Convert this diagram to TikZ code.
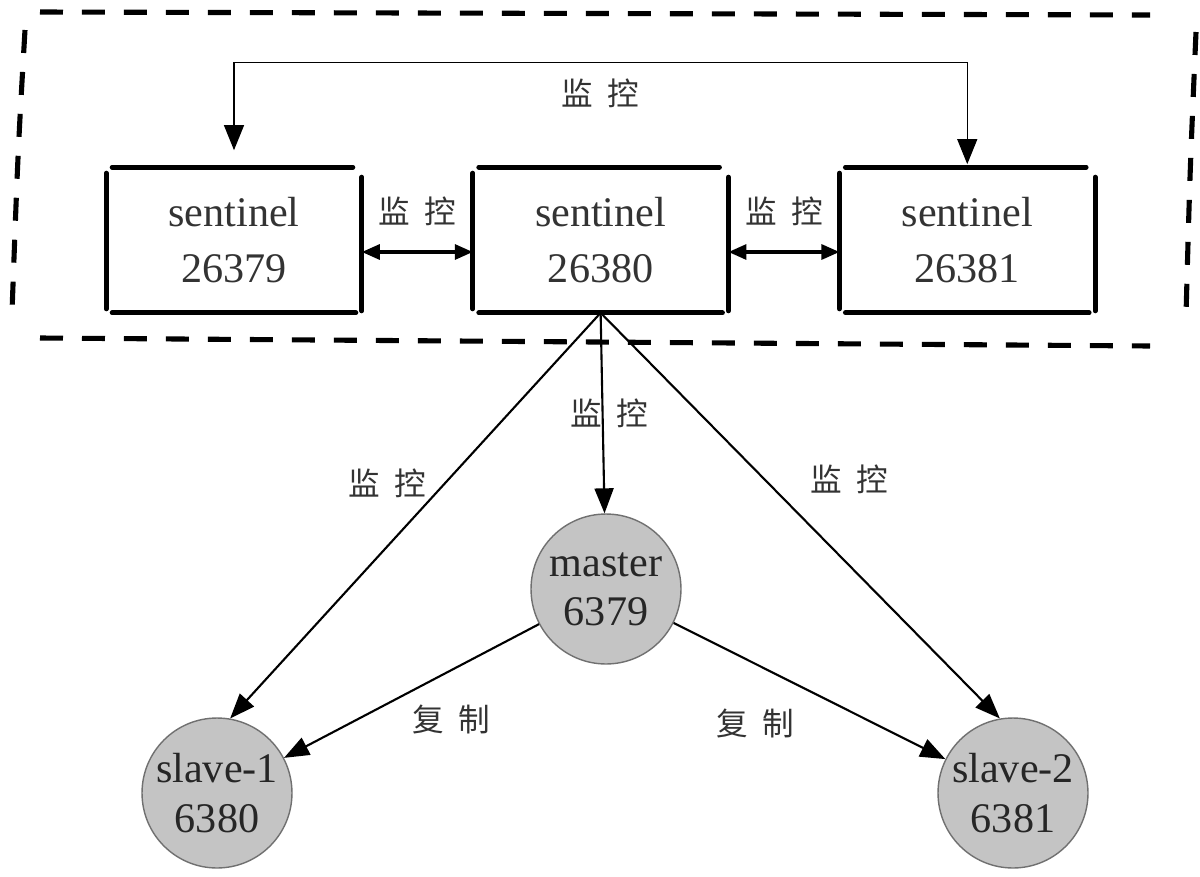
\documentclass[tikz,border=0pt]{standalone}
\usepackage{fontspec}
\usepackage{xcolor}
\usetikzlibrary{arrows.meta,positioning}
\setmainfont{Liberation Serif}
\newfontfamily\cjk{Noto Sans CJK SC}
\definecolor{RedisGrey}{HTML}{C4C4C4}
\definecolor{RedisEdge}{HTML}{707070}
\newcommand{\jk}{监\hspace{0.45em}控}
\newcommand{\fz}{复\hspace{0.45em}制}

\begin{document}
\begin{tikzpicture}[x=0.02cm, y=-0.02cm, node distance=2.22cm,
    sentbox/.style={minimum width=5.1cm, minimum height=2.9cm, align=center, text=black!80, font=\fontsize{24}{32}\selectfont},
    redis/.style={circle, draw=RedisEdge, line width=0.8pt, fill=RedisGrey, minimum size=3cm, inner sep=0pt, align=center, text=black!85, font=\fontsize{24}{28}\selectfont},
    sketch/.style={line width=2.8pt, line cap=round},
    frame/.style={line width=2.9pt, dash pattern=on 0.46cm off 0.38cm},
    lbl/.style={font=\cjk\fontsize{18}{20}\selectfont, text=black!80, inner sep=0pt},
    link/.style={line width=1.2pt, -{Triangle[length=0.5cm,width=0.38cm]}},
    duo/.style={line width=1.8pt, {Triangle[length=0.36cm,width=0.3cm]}-{Triangle[length=0.36cm,width=0.3cm]}},
    loop/.style={line width=0.7pt, {Triangle[length=0.5cm,width=0.4cm]}-{Triangle[length=0.5cm,width=0.4cm]}}]
  \useasboundingbox (0,0) rectangle (1200,876);

  % sentinel group
  \node[sentbox] (s1) at (234,240) {sentinel\\26379};
  \node[sentbox, right=of s1] (s2) {sentinel\\26380};
  \node[sentbox, right=of s2] (s3) {sentinel\\26381};
  \foreach \b in {s1,s2,s3} {
    \draw[sketch] ([xshift=0.12cm]\b.north west) -- ([xshift=-0.18cm]\b.north east);
    \draw[sketch] ([xshift=0.12cm]\b.south west) -- ([xshift=-0.12cm]\b.south east);
    \draw[sketch] ([yshift=-0.12cm]\b.north west) -- ([yshift=0.08cm]\b.south west);
    \draw[sketch] ([yshift=-0.2cm]\b.north east) -- ([yshift=0.04cm]\b.south east);
  }

  % dashed border
  \draw[frame] (40,12) -- (1150,15);
  \draw[frame] (40,338) -- (1150,346);
  \draw[frame] (25,30) .. controls (18,150) .. (12,312);
  \draw[frame] (1196,32) .. controls (1190,170) .. (1186,315);

  % master and slaves
  \node[redis] (m) at (606,589) {master\\6379};
  \node[redis] (sl1) at (217,793) {slave-1\\6380};
  \node[redis] (sl2) at (1013,793) {slave-2\\6381};

  % monitoring
  \draw[loop] ([yshift=0.34cm]s1.north) |- ([yshift=2.1cm]s2.north) node[lbl, below=0.32cm] {\jk} -| ([yshift=0.06cm]s3.north);
  \draw[duo] ([yshift=-0.24cm]s1.east) -- node[lbl, above=0.5cm] {\jk} ([yshift=-0.24cm]s2.west);
  \draw[duo] ([yshift=-0.24cm]s2.east) -- node[lbl, above=0.5cm] {\jk} ([yshift=-0.24cm]s3.west);
  \draw[link] (s2.south) -- node[lbl, xshift=0.14cm] {\jk} (m);
  \draw[link] (s2.south) -- node[lbl, pos=.42, left=0.36cm] {\jk} (sl1.80);
  \draw[link] (s2.south) -- node[lbl, pos=.41, right=0.9cm] {\jk} (sl2.100);

  % replication
  \draw[link] (m) -- node[lbl, below right=0.26cm and 0cm] {\fz} (sl1);
  \draw[link] (m) -- node[lbl, below left=0.34cm and 0.28cm] {\fz} (sl2);
\end{tikzpicture}
\end{document}
